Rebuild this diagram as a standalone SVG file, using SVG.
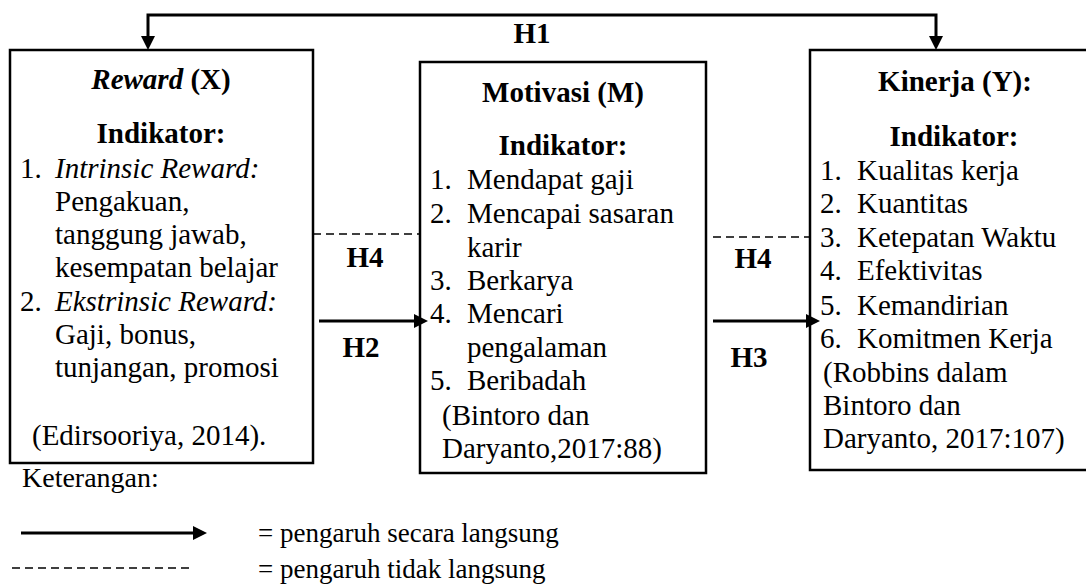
<svg xmlns="http://www.w3.org/2000/svg" width="1086" height="585" viewBox="0 0 1086 585">
<style>
text{font-family:'Liberation Serif','Times New Roman',serif;font-size:29px;fill:#000}
.b{font-weight:bold}
.i{font-style:italic}
.m{text-anchor:middle}
.box{fill:#fff;stroke:#000;stroke-width:2.5}
.solid{fill:none;stroke:#000;stroke-width:3}
.dash{fill:none;stroke:#000;stroke-width:1.5;stroke-dasharray:8 5}
.lg{font-size:27px}
</style>
<defs>
<marker id="ah" markerWidth="15" markerHeight="14" refX="4" refY="7" orient="auto-start-reverse" markerUnits="userSpaceOnUse">
<path d="M0,0 L14,7 L0,14 z" fill="#000"/>
</marker>
</defs>
<rect width="1086" height="585" fill="#fff"/>

<g id="node-reward">
<rect class="box" x="10" y="50" width="303" height="413"/>
<text class="m" x="161" y="89"><tspan class="b i">Reward</tspan><tspan class="b"> (X)</tspan></text>
<text class="b m" x="161" y="143">Indikator:</text>
<text x="20" y="178">1.</text><text class="i" x="55" y="178">Intrinsic Reward:</text>
<text x="55" y="211">Pengakuan,</text>
<text x="55" y="244">tanggung jawab,</text>
<text x="55" y="277">kesempatan belajar</text>
<text x="20" y="311">2.</text><text class="i" x="55" y="311">Ekstrinsic Reward:</text>
<text x="55" y="344">Gaji, bonus,</text>
<text x="55" y="377">tunjangan, promosi</text>
<text x="32" y="445">(Edirsooriya, 2014).</text>
</g>

<g id="node-motivasi">
<rect class="box" x="420" y="62" width="286" height="411"/>
<text class="b m" x="563" y="102">Motivasi (M)</text>
<text class="b m" x="563" y="155">Indikator:</text>
<text x="430" y="189">1.</text><text x="467" y="189">Mendapat gaji</text>
<text x="430" y="223">2.</text><text x="467" y="223">Mencapai sasaran</text>
<text x="467" y="257">karir</text>
<text x="430" y="290">3.</text><text x="467" y="290">Berkarya</text>
<text x="430" y="323">4.</text><text x="467" y="323">Mencari</text>
<text x="467" y="357">pengalaman</text>
<text x="430" y="390">5.</text><text x="467" y="390">Beribadah</text>
<text x="442" y="425">(Bintoro dan</text>
<text x="442" y="458">Daryanto,2017:88)</text>
</g>

<g id="node-kinerja">
<rect class="box" x="810" y="50" width="290" height="420"/>
<text class="b m" x="955" y="91">Kinerja (Y):</text>
<text class="b m" x="954" y="146">Indikator:</text>
<text x="820" y="180">1.</text><text x="857" y="180">Kualitas kerja</text>
<text x="820" y="213">2.</text><text x="857" y="213">Kuantitas</text>
<text x="820" y="247">3.</text><text x="857" y="247">Ketepatan Waktu</text>
<text x="820" y="280">4.</text><text x="857" y="280">Efektivitas</text>
<text x="820" y="315">5.</text><text x="857" y="315">Kemandirian</text>
<text x="820" y="348">6.</text><text x="857" y="348">Komitmen Kerja</text>
<text x="823" y="382">(Robbins dalam</text>
<text x="823" y="415">Bintoro dan</text>
<text x="823" y="448">Daryanto, 2017:107)</text>
</g>

<g id="connectors">
<path class="solid" d="M148,40 V15 H936 V40" marker-start="url(#ah)" marker-end="url(#ah)"/>
<path class="solid" d="M319,321 H418" marker-end="url(#ah)"/>
<path class="solid" d="M713,321 H810" marker-end="url(#ah)"/>
<path class="dash" d="M313,234 H420"/>
<path class="dash" d="M713,237 H810"/>
<text class="b m" x="532" y="43">H1</text>
<text class="b m" x="365" y="267">H4</text>
<text class="b m" x="753" y="268">H4</text>
<text class="b m" x="361" y="357">H2</text>
<text class="b m" x="749" y="367">H3</text>
</g>

<g id="legend">
<text x="22" y="487" style="font-size:28px">Keterangan:</text>
<path class="solid" d="M21,533 H197" marker-end="url(#ah)"/>
<text class="lg" x="258" y="542">= pengaruh secara langsung</text>
<path class="dash" d="M12,568 H193"/>
<text class="lg" x="258" y="578">= pengaruh tidak langsung</text>
</g>
</svg>
